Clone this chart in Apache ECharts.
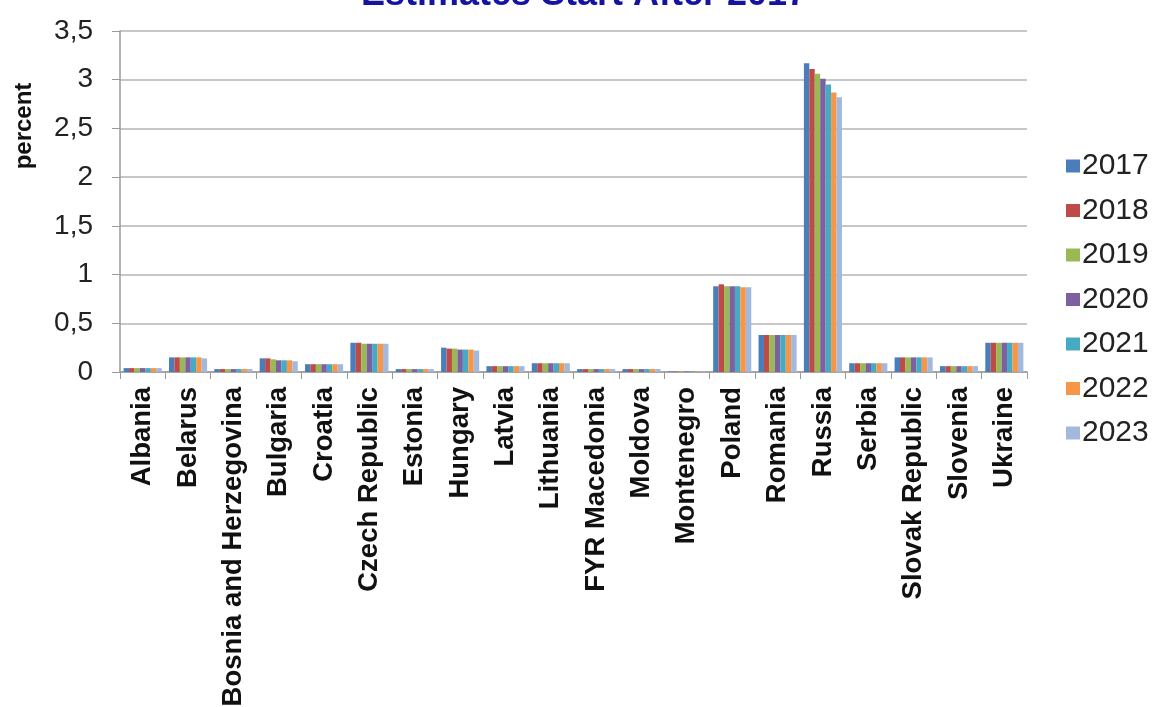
<!DOCTYPE html>
<html>
<head>
<meta charset="utf-8">
<style>
  html, body { margin: 0; padding: 0; background: #fff; }
  #chart { width: 1154px; height: 707px; }
</style>
<script src="https://cdn.jsdelivr.net/npm/echarts@6/dist/echarts.min.js"></script>
</head>
<body>
<div id="chart"></div>
<script>
const countries = ['Albania', 'Belarus', 'Bosnia and Herzegovina', 'Bulgaria', 'Croatia',
  'Czech Republic', 'Estonia', 'Hungary', 'Latvia', 'Lithuania', 'FYR Macedonia', 'Moldova',
  'Montenegro', 'Poland', 'Romania', 'Russia', 'Serbia', 'Slovak Republic', 'Slovenia', 'Ukraine'];

const years = ['2017', '2018', '2019', '2020', '2021', '2022', '2023'];

// percent, one array per year, in the order of the countries above
const y2017 = [0.04, 0.15, 0.03, 0.14, 0.08, 0.30, 0.03, 0.25, 0.06, 0.09, 0.03, 0.03, 0.005, 0.88, 0.38, 3.17, 0.09, 0.15, 0.06, 0.30];
const y2018 = [0.04, 0.15, 0.03, 0.14, 0.08, 0.30, 0.03, 0.24, 0.06, 0.09, 0.03, 0.03, 0.005, 0.90, 0.38, 3.11, 0.09, 0.15, 0.06, 0.30];
const y2019 = [0.04, 0.15, 0.03, 0.13, 0.08, 0.29, 0.03, 0.24, 0.06, 0.09, 0.03, 0.03, 0.005, 0.88, 0.38, 3.06, 0.09, 0.15, 0.06, 0.30];
const y2020 = [0.04, 0.15, 0.03, 0.12, 0.08, 0.29, 0.03, 0.23, 0.06, 0.09, 0.03, 0.03, 0.005, 0.88, 0.38, 3.01, 0.09, 0.15, 0.06, 0.30];
const y2021 = [0.04, 0.15, 0.03, 0.12, 0.08, 0.29, 0.03, 0.23, 0.06, 0.09, 0.03, 0.03, 0.005, 0.88, 0.38, 2.95, 0.09, 0.15, 0.06, 0.30];
const y2022 = [0.04, 0.15, 0.03, 0.12, 0.08, 0.29, 0.03, 0.23, 0.06, 0.09, 0.03, 0.03, 0.005, 0.87, 0.38, 2.87, 0.09, 0.15, 0.06, 0.30];
const y2023 = [0.04, 0.14, 0.03, 0.11, 0.08, 0.29, 0.03, 0.22, 0.06, 0.09, 0.03, 0.03, 0.005, 0.87, 0.38, 2.82, 0.09, 0.15, 0.06, 0.30];

const yearValues = [y2017, y2018, y2019, y2020, y2021, y2022, y2023];
const colors = ['#4a7ebb', '#be4b48', '#98b954', '#7d60a0', '#46aac5', '#f79646', '#a2b9dd'];

const yTicks = [0, 0.5, 1, 1.5, 2, 2.5, 3, 3.5];

const chart = echarts.init(document.getElementById('chart'));

chart.setOption({
  animation: false,
  color: colors,
  title: {
    text: 'Estimates Start After 2017',
    left: 579,
    textAlign: 'center',
    top: -28,
    textStyle: { fontFamily: 'Liberation Sans', fontWeight: 'bold', fontSize: 36, color: '#1414a0' }
  },
  graphic: [{
    type: 'text',
    x: 12,
    y: 126,
    rotation: Math.PI / 2,
    style: {
      text: 'percent',
      fontFamily: 'Liberation Sans',
      fontWeight: 'bold',
      fontSize: 24,
      fill: '#111',
      align: 'center',
      verticalAlign: 'top'
    }
  }],
  legend: {
    orient: 'vertical',
    left: 1061,
    top: 146,
    itemWidth: 14,
    itemHeight: 13,
    itemGap: 14.5,
    icon: 'rect',
    textStyle: { fontFamily: 'Liberation Sans', fontSize: 30, color: '#222', padding: [0, 0, 0, -3] },
    data: years
  },
  grid: { left: 120, right: 127, top: 31, bottom: 335, outerBoundsMode: 'none' },
  xAxis: {
    type: 'category',
    data: countries,
    axisLine: { lineStyle: { color: '#9a9a9a', width: 1.5 } },
    axisTick: { show: true, length: 7, lineStyle: { color: '#9a9a9a' } },
    axisLabel: {
      rotate: 90,
      interval: 0,
      margin: 15,
      fontFamily: 'Liberation Sans',
      fontWeight: 'bold',
      fontSize: 27.5,
      color: '#111'
    }
  },
  yAxis: {
    type: 'value',
    min: 0,
    max: 3.5,
    interval: 0.5,
    axisLine: { show: true, lineStyle: { color: '#9a9a9a', width: 1.5 } },
    axisTick: { show: true, length: 8, lineStyle: { color: '#9a9a9a' } },
    splitLine: { lineStyle: { color: '#b5b5b5', width: 1.5 } },
    axisLabel: {
      margin: 27,
      fontFamily: 'Liberation Sans',
      fontSize: 28,
      color: '#222',
      formatter: v => {
        const t = yTicks.find(x => Math.abs(x - v) < 1e-9);
        return String(t !== undefined ? t : v).replace('.', ',');
      }
    }
  },
  series: years.map((yr, i) => ({
    name: yr,
    type: 'bar',
    data: yearValues[i],
    barGap: '0%',
    barCategoryGap: '16%',
    itemStyle: { color: colors[i] }
  }))
});
</script>
</body>
</html>
